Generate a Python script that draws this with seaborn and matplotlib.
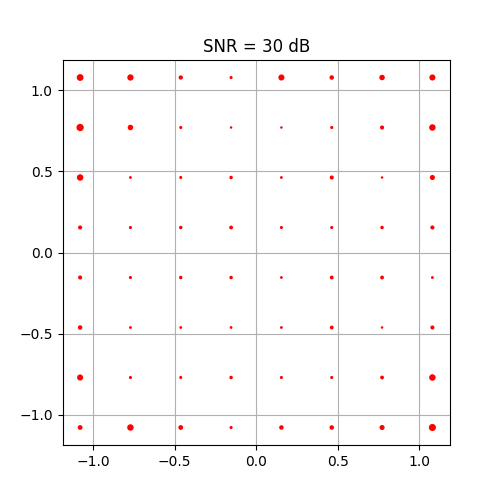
import numpy as np
import pandas as pd
import matplotlib
matplotlib.use("Agg")
import matplotlib.pyplot as plt
import seaborn as sns

# 64-QAM constellation levels (normalised to unit average power)
levels = np.array([-7, -5, -3, -1, 1, 3, 5, 7]) / np.sqrt(42)

# apparent dot diameter (px) per constellation point, rows top -> bottom
spread = np.array([
    [7.0, 6.5, 4.5, 3.3, 6.3, 4.7, 5.7, 6.3],
    [7.5, 5.7, 3.3, 2.7, 2.7, 3.3, 4.3, 6.7],
    [6.7, 3.0, 3.3, 3.7, 3.0, 4.3, 2.7, 5.3],
    [4.3, 3.3, 3.7, 4.0, 3.3, 3.3, 3.7, 4.3],
    [4.3, 3.3, 3.7, 3.7, 3.0, 4.0, 4.0, 3.0],
    [4.7, 3.0, 3.0, 3.0, 3.0, 4.0, 2.7, 4.3],
    [6.3, 3.3, 3.3, 3.7, 3.3, 3.3, 4.0, 6.7],
    [5.0, 6.7, 5.0, 3.3, 4.7, 4.7, 5.3, 7.3],
])

xx, yy = np.meshgrid(levels, levels[::-1])
df = pd.DataFrame({"I": xx.ravel(), "Q": yy.ravel(), "d": spread.ravel()})

fig, ax = plt.subplots(figsize=(5, 5), dpi=100)
# diameter in px -> marker area in pt^2
area = ((df["d"] - 0.2) * 0.72) ** 2
sns.scatterplot(data=df, x="I", y="Q", color="red", s=area, linewidth=0,
                edgecolor="none", legend=False, ax=ax)
ax.set_title("SNR = 30 dB")
ax.set_xlabel("")
ax.set_ylabel("")
ax.grid(True)
ax.set_axisbelow(True)
ax.set_xticks([-1.0, -0.5, 0.0, 0.5, 1.0])
ax.set_yticks([-1.0, -0.5, 0.0, 0.5, 1.0])

fig.savefig("out.png", dpi=100)
